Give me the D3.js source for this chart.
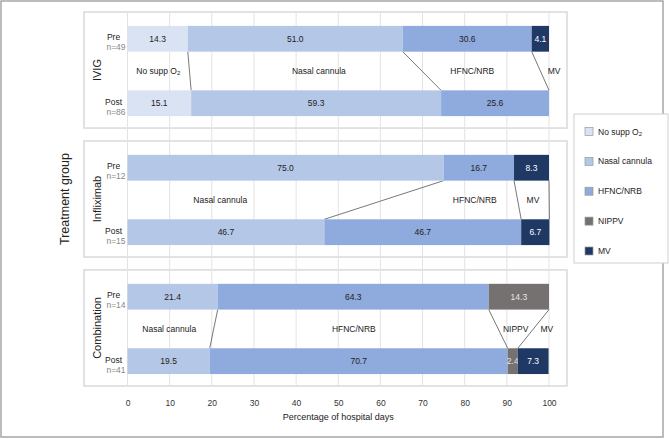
<!DOCTYPE html>
<html>
<head>
<meta charset="utf-8">
<script src="https://cdn.jsdelivr.net/npm/d3@7/dist/d3.min.js"></script>
<style>
  html, body { margin: 0; padding: 0; background: #fff; }
  svg { display: block; font-family: "Liberation Sans", Arial, sans-serif; }
</style>
</head>
<body>
<svg id="chart" width="669" height="439"></svg>
<script>
// ---------- data ----------
const groups = ["IVIG", "Infliximab", "Combination"];
const periods = ["Pre", "Post"];
const categories = ["No supp O2", "Nasal cannula", "HFNC/NRB", "NIPPV", "MV"];
const colors = ["#dae3f3", "#b4c7e7", "#8faadc", "#767171", "#1f3864"];
const sampleSizes = [[49, 86], [12, 15], [14, 41]];
// values[group][period][category]
const ivigValues = [[14.3, 51.0, 30.6, 0, 4.1], [15.1, 59.3, 25.6, 0, 0]];
const inflixValues = [[0, 75.0, 16.7, 0, 8.3], [0, 46.7, 46.7, 0, 6.7]];
const comboValues = [[0, 21.4, 64.3, 14.3, 0], [0, 19.5, 70.7, 2.4, 7.3]];
const values = [ivigValues, inflixValues, comboValues];
// region label positions (in percent units) per group
const regionLabels = [
  [["No supp O2", 7.3], ["Nasal cannula", 45.4], ["HFNC/NRB", 81.8], ["MV", 101.2]],
  [["Nasal cannula", 22], ["HFNC/NRB", 82.4], ["MV", 96.2]],
  [["Nasal cannula", 9.9], ["HFNC/NRB", 53.7], ["NIPPV", 92.1], ["MV", 99.5]]
];
const xTicks = [0, 10, 20, 30, 40, 50, 60, 70, 80, 90, 100];

// ---------- scales ----------
const svg = d3.select("#chart");
const x = d3.scaleLinear().domain([0, 100]).range([127.5, 549]);
const panelY = d3.scaleBand().domain(groups).range([12, 386]).paddingInner(0.1);
const barY = d3.scaleBand().domain(periods).range([1, 117]).paddingInner(0.6).paddingOuter(0.2);
const panelLeft = 84, panelRight = 567;
const fs = "8.5px";

// outer frame
svg.append("rect").attr("x", 1).attr("y", 1).attr("width", 662).attr("height", 436)
  .attr("fill", "none").attr("stroke", "#a6a6a6").attr("stroke-width", 1.5);

// panel backgrounds
groups.forEach(g => {
  svg.append("rect").attr("x", panelLeft).attr("y", panelY(g))
    .attr("width", panelRight - panelLeft).attr("height", panelY.bandwidth())
    .attr("fill", "#fff").attr("stroke", "#d9d9d9").attr("stroke-width", 1.5);
});

// gridlines
svg.append("g").selectAll("line").data(xTicks).join("line")
  .attr("x1", d => x(d)).attr("x2", d => x(d))
  .attr("y1", panelY.range()[0]).attr("y2", panelY.range()[1])
  .attr("stroke", "#e3e3e3").attr("stroke-width", 1);

// text helper for O2 subscript
function setLabel(sel, t) {
  if (t === "No supp O2") {
    sel.text(null);
    sel.append("tspan").text("No supp O");
    sel.append("tspan").text("2").attr("font-size", "6px").attr("dy", "2");
  } else sel.text(t);
}

groups.forEach((g, gi) => {
  const gTop = panelY(g);
  const layer = svg.append("g").attr("transform", `translate(0,${gTop})`);
  const cums = periods.map((p, pi) => {
    let acc = 0;
    return values[gi][pi].map(v => { const s = acc; acc += v; return [s, acc]; });
  });

  // connector lines
  categories.forEach((c, ci) => {
    if (values[gi][0][ci] > 0 && values[gi][1][ci] > 0) {
      layer.append("line")
        .attr("x1", x(cums[0][ci][1])).attr("y1", barY("Pre") + barY.bandwidth())
        .attr("x2", x(cums[1][ci][1])).attr("y2", barY("Post"))
        .attr("stroke", "#555").attr("stroke-width", 0.8);
    }
  });

  // region labels
  const midY = (barY("Pre") + barY.bandwidth() + barY("Post")) / 2;
  regionLabels[gi].forEach(([t, v]) => {
    const tx = layer.append("text").attr("x", x(v)).attr("y", midY)
      .attr("text-anchor", "middle").attr("dominant-baseline", "central")
      .attr("font-size", fs).attr("fill", "#222");
    setLabel(tx, t);
  });

  // bars
  periods.forEach((p, pi) => {
    categories.forEach((c, ci) => {
      const v = values[gi][pi][ci];
      if (v <= 0) return;
      const [s, e] = cums[pi][ci];
      layer.append("rect").attr("x", x(s)).attr("y", barY(p))
        .attr("width", x(e) - x(s)).attr("height", barY.bandwidth())
        .attr("fill", colors[ci]);
      layer.append("text").attr("x", (x(s) + x(e)) / 2).attr("y", barY(p) + barY.bandwidth() / 2)
        .attr("text-anchor", "middle").attr("dominant-baseline", "central")
        .attr("font-size", fs)
        .attr("fill", ci === 4 ? "#fff" : (ci === 3 ? "#e6e6e6" : "#222"))
        .text(v.toFixed(1));
    });
    // period labels
    const cy = barY(p) + barY.bandwidth() / 2;
    layer.append("text").attr("x", 113.5).attr("y", cy - 1.5)
      .attr("text-anchor", "middle").attr("dominant-baseline", "central")
      .attr("font-size", fs).attr("fill", "#222").text(p);
    layer.append("text").attr("x", 116).attr("y", cy + 8.5)
      .attr("text-anchor", "middle").attr("dominant-baseline", "central")
      .attr("font-size", fs).attr("fill", "#888").text("n=" + sampleSizes[gi][pi]);
  });

  // facet label
  layer.append("text")
    .attr("transform", `translate(97,${panelY.bandwidth() / 2}) rotate(-90)`)
    .attr("text-anchor", "middle").attr("dominant-baseline", "central")
    .attr("font-size", "11px").attr("fill", "#222").text(g);
});

// y title
svg.append("text").attr("transform", "translate(65,199) rotate(-90)")
  .attr("text-anchor", "middle").attr("dominant-baseline", "central")
  .attr("font-size", "12.5px").attr("fill", "#222").text("Treatment group");

// x axis
const xAxis = svg.append("g").attr("transform", "translate(0,386)")
  .call(d3.axisBottom(x).tickValues(xTicks).tickSize(0).tickPadding(14));
xAxis.select(".domain").remove();
xAxis.selectAll("text").attr("font-size", fs).attr("fill", "#333")
  .attr("font-family", "Liberation Sans, Arial, sans-serif");
svg.append("text").attr("x", x(50)).attr("y", 417)
  .attr("text-anchor", "middle").attr("dominant-baseline", "central")
  .attr("font-size", "9px").attr("fill", "#222").text("Percentage of hospital days");

// legend
svg.append("rect").attr("x", 574).attr("y", 114).attr("width", 94).attr("height", 149)
  .attr("fill", "#fff").attr("stroke", "#d0d0d0").attr("stroke-width", 1);
const legendYs = d3.scalePoint().domain(categories).range([131.5, 251]);
categories.forEach((c, ci) => {
  const ly = legendYs(c);
  svg.append("rect").attr("x", 585).attr("y", ly - 4).attr("width", 8).attr("height", 8)
    .attr("fill", colors[ci]).attr("stroke", "#999").attr("stroke-width", 0.7);
  const t = svg.append("text").attr("x", 598).attr("y", ly)
    .attr("dominant-baseline", "central").attr("font-size", fs).attr("fill", "#222");
  setLabel(t, c);
});
</script>
</body>
</html>
